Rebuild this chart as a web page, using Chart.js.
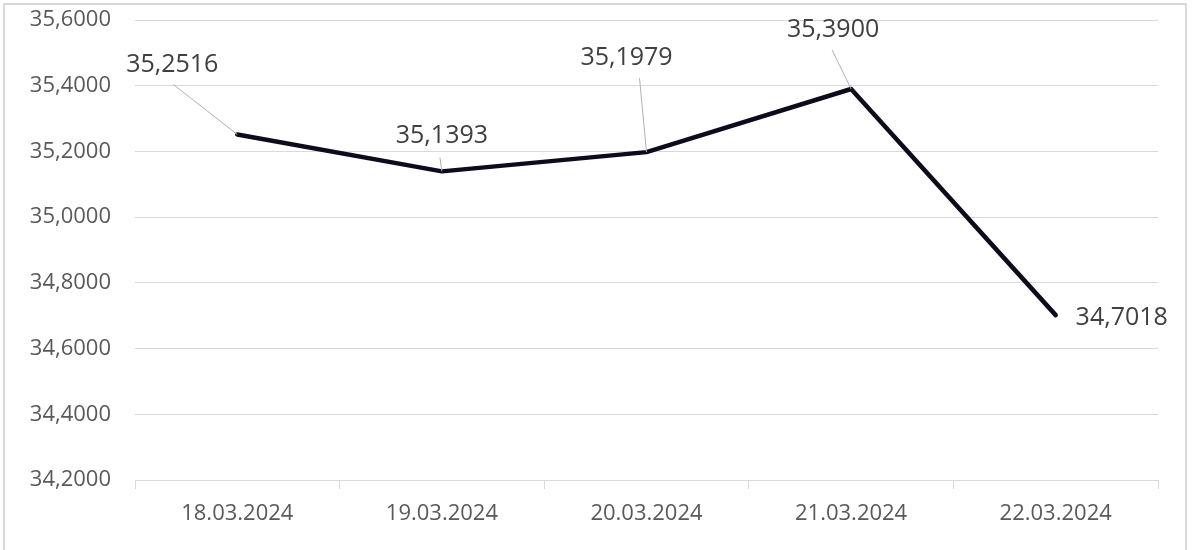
<!DOCTYPE html>
<html>
<head>
<meta charset="utf-8">
<script src="https://cdn.jsdelivr.net/npm/chart.js@4"></script>
<style>
  body { margin: 0; background: #fff; }
  #wrap { position: relative; width: 1199px; height: 550px; }
  #frame { position: absolute; left: 3px; top: 3px; width: 1180px; height: 546px; border: 2px solid #d9d9d9; border-bottom: none; pointer-events: none; }
</style>
</head>
<body>
<div id="wrap">
  <canvas id="chart" width="1199" height="550"></canvas>
  <div id="frame"></div>
</div>
<script>
const labels = ["18.03.2024", "19.03.2024", "20.03.2024", "21.03.2024", "22.03.2024"];
const values = [35.2516, 35.1393, 35.1979, 35.3900, 34.7018];
const yMin = 34.2;
const yMax = 35.6;
const yStep = 0.2;

// label placement relative to each point: [dx, dy, leaderStartDx, leaderStartDy]
const labelOffsets = [
  [-65, -70, -64, -50],
  [0, -35, -2, -14],
  [-20, -94, -7, -74],
  [-18, -59, -19, -39],
  [66, 3, null, null]
];

const fmt = v => v.toFixed(4).replace(".", ",");

const dataLabels = {
  id: "dataLabels",
  afterDatasetsDraw(chart) {
    const { ctx } = chart;
    const pts = chart.getDatasetMeta(0).data;
    ctx.save();
    pts.forEach((p, i) => {
      const [dx, dy, lx, ly] = labelOffsets[i];
      if (lx !== null) {
        ctx.strokeStyle = "#b0b0b0";
        ctx.lineWidth = 1;
        ctx.beginPath();
        ctx.moveTo(p.x + lx, p.y + ly);
        ctx.lineTo(p.x, p.y);
        ctx.stroke();
      }
      ctx.fillStyle = "#404040";
      ctx.font = "25px 'Open Sans'";
      ctx.textAlign = "center";
      ctx.textBaseline = "middle";
      ctx.fillText(fmt(values[i]), p.x + dx, p.y + dy);
    });
    ctx.restore();
  }
};

new Chart(document.getElementById("chart"), {
  type: "line",
  data: {
    labels,
    datasets: [{
      data: values,
      borderColor: "#0d0b1c",
      borderWidth: 4.5,
      borderCapStyle: "round",
      borderJoinStyle: "round",
      pointRadius: 0,
      tension: 0
    }]
  },
  options: {
    responsive: false,
    animation: false,
    layout: { padding: { top: 20, right: 41, left: 0, bottom: 0 } },
    plugins: { legend: { display: false }, tooltip: { enabled: false } },
    scales: {
      x: {
        offset: true,
        grid: { offset: true, drawOnChartArea: false, tickLength: 9, color: "#d9d9d9" },
        border: { display: true, color: "#d9d9d9" },
        ticks: { color: "#595959", font: { family: "Open Sans", size: 22 }, padding: 12 },
        afterFit(s) { s.height = 70; }
      },
      y: {
        min: yMin,
        max: yMax,
        grid: { color: "#d9d9d9", drawTicks: false },
        border: { display: false },
        ticks: {
          stepSize: yStep,
          color: "#595959",
          font: { family: "Open Sans", size: 22 },
          padding: 24,
          callback: v => fmt(v)
        },
        afterFit(s) { s.width = 135; s.paddingTop = 0; s.paddingBottom = 0; }
      }
    }
  },
  plugins: [dataLabels]
});
</script>
</body>
</html>
